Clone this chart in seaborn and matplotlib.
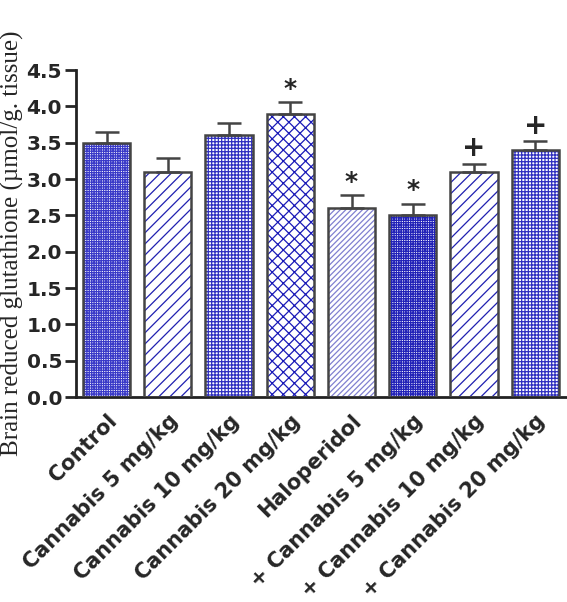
import numpy as np
import pandas as pd
import matplotlib
matplotlib.use("Agg")
import matplotlib.pyplot as plt
import seaborn as sns

groups = ["Control", "Cannabis 5 mg/kg", "Cannabis 10 mg/kg", "Cannabis 20 mg/kg",
          "Haloperidol", "+ Cannabis 5 mg/kg", "+ Cannabis 10 mg/kg", "+ Cannabis 20 mg/kg"]
gsh = [3.5, 3.1, 3.6, 3.9, 2.6, 2.5, 3.1, 3.4]
sem = [0.15, 0.19, 0.17, 0.16, 0.18, 0.16, 0.11, 0.12]
marks = ["", "", "", "*", "*", "*", "+", "+"]
hatches = ["+++++++", "///", "+++++", "xxx", "//////", "+++++++", "///", "+++++"]
hatch_colors = ["#3a3ac8", "#2020b0", "#3030c0", "#1a1ab8", "#8080d0", "#2222b8", "#2020b0", "#3030c0"]

df = pd.DataFrame({"group": groups, "gsh": gsh})

sns.set_style("ticks")
plt.rcParams["font.family"] = ["DejaVu Sans"]
plt.rcParams["hatch.linewidth"] = 0.9

fig = plt.figure(figsize=(5.67, 6.02), dpi=100)
ax = fig.add_axes([0.134, 0.3405, 0.864, 0.5432])

edge = "#444444"

sns.barplot(data=df, x="group", y="gsh", ax=ax, color="white", width=0.77,
            errorbar=None, linewidth=0)
for p, h, c in zip(ax.patches, hatches, hatch_colors):
    p.set_hatch(h)
    p.set_edgecolor(c)
    x0, w, hgt = p.get_x(), p.get_width(), p.get_height()
    ax.add_patch(plt.Rectangle((x0, 0), w, hgt, fill=False, edgecolor=edge, lw=1.8, zorder=3))

x = np.arange(len(groups))
ax.errorbar(x, gsh, yerr=[np.zeros(len(sem)), sem], fmt="none", ecolor=edge,
            elinewidth=1.8, capsize=8.5, capthick=1.8, zorder=2)

for xi, v, s, m in zip(x, gsh, sem, marks):
    if m:
        ax.text(xi, v + s + 0.02, m, ha="center", va="bottom",
                fontsize=18 if m == "*" else 20, fontweight="bold")

ax.set_xlim(-0.5, 7.5)
ax.set_ylim(0, 4.5)
yt = np.arange(0, 4.51, 0.5)
ax.set_yticks(yt)
ax.set_yticklabels([f"{t:.1f}" for t in yt], fontsize=14.5, fontweight="bold")
ax.set_xlabel("")
ax.set_xticks(x)
ax.set_xticklabels(groups, rotation=45, ha="right", rotation_mode="anchor",
                   fontsize=15, fontweight="bold")
ax.tick_params(axis="x", length=0, pad=10)
ax.tick_params(axis="y", length=8, width=2, direction="out", pad=2)
ax.set_ylabel("Brain reduced glutathione (\u00b5mol/g. tissue)",
              family=["Liberation Serif", "DejaVu Serif"], fontsize=18)
ax.yaxis.set_label_coords(-0.106, 0.47)
for sp in ["top", "right"]:
    ax.spines[sp].set_visible(False)
for sp in ["left", "bottom"]:
    ax.spines[sp].set_linewidth(2)
    ax.spines[sp].set_color("#222222")

fig.savefig("out.png", dpi=100)
